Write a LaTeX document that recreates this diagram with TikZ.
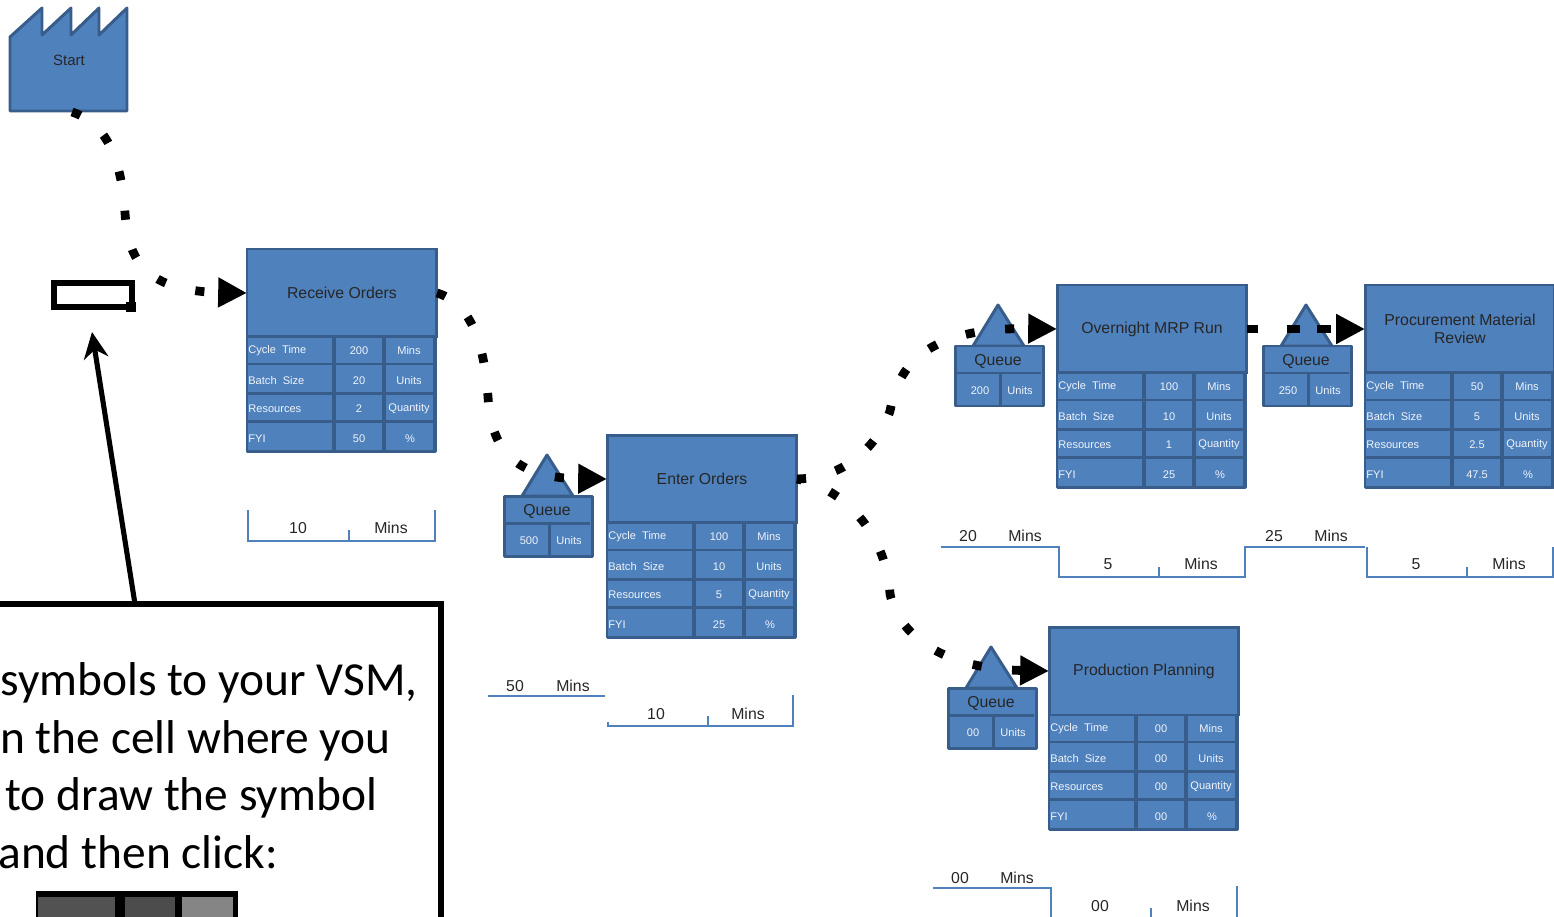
\documentclass[tikz,border=0pt]{standalone}
\usepackage{fontspec}
\setmainfont{Liberation Sans}
\newfontfamily\notefont{Carlito}
\usetikzlibrary{arrows.meta}
\definecolor{vsmF}{RGB}{79,129,189}
\definecolor{vsmD}{RGB}{56,93,138}
\definecolor{vsmT}{RGB}{240,244,250}
\newcommand{\procbox}[8]{%
  \begin{scope}[shift={(#2,#3)}]
    \filldraw[shapeline, fill=vsmD] (0,87) rectangle (188,202);
    \foreach \ya/\yb in {88/114,116/143,146/171,174/201} {
      \fill[vsmF] (1,\ya) rectangle (85,\yb);
      \fill[vsmF] (89,\ya) rectangle (135,\yb);
      \fill[vsmF] (139,\ya) rectangle (186,\yb);
    }
    \node[titletext, minimum width=3.8cm, minimum height=1.76cm, anchor=north west, draw=vsmD, fill=vsmF, line width=1.7pt, align=center] (#1) at (0,0) {#4};
    \node[celltext, anchor=west] (#1ctl) at (1,102) {Cycle\ \ Time};
    \node[celltext, anchor=west] (#1bsl) at (1,132) {Batch\ \ Size};
    \node[celltext, anchor=west] (#1rel) at (1,160) {Resources};
    \node[celltext, anchor=west] (#1fyl) at (1,190) {FYI};
    \node[celltext] (#1ctv) at (112,102) {#5};
    \node[celltext] (#1bsv) at (112,132) {#6};
    \node[celltext] (#1rev) at (112,160) {#7};
    \node[celltext] (#1fyv) at (112,190) {#8};
    \node[celltext] (#1ctu) at (162,102) {Mins};
    \node[celltext] (#1bsu) at (162,132) {Units};
    \node[celltext] (#1reu) at (162,160) {Quantity};
    \node[celltext] (#1fyu) at (163,190) {\%};
  \end{scope}}
\newcommand{\queuebox}[4]{%
  \begin{scope}[shift={(#2,#3)}]
    \filldraw[shapeline] (18,0) -- (43,-41) -- (69,0) -- cycle;
    \filldraw[shapeline] (0,0) rectangle (88,60);
    \draw[shapeline] (2,27) -- (86,27);
    \draw[shapeline] (45,27) -- (45,59);
    \node[queuetext] (#1lab) at (43,15) {Queue};
    \node[celltext] (#1val) at (25,45) {#4};
    \node[celltext] (#1uni) at (65,45) {Units};
  \end{scope}}
\newcommand{\timelabel}[4]{\node[timetext] (#1) at (#2,#3) {#4};}

\begin{document}
\begin{tikzpicture}[
    x=0.02cm, y=-0.02cm,
    shapeline/.style={draw=vsmD, fill=vsmF, line width=1.7pt, line join=round},
    titletext/.style={font=\fontsize{9}{10.2}\selectfont, text=black!85, inner sep=0pt, outer sep=0pt},
    celltext/.style={font=\fontsize{6.3}{7}\selectfont, text=vsmT, inner sep=0pt},
    queuetext/.style={font=\fontsize{9}{10}\selectfont, text=black!85, inner sep=0pt},
    timetext/.style={font=\fontsize{9}{10}\selectfont, text=black!85, inner sep=0pt},
    timeline/.style={draw=vsmF, line width=1.1pt},
    pull/.style={draw=black, line width=5pt, dash pattern=on 5.2pt off 17.4pt, -{Triangle[length=16.4pt,width=16pt]}},
    notetext/.style={font=\notefont\fontsize{27}{30}\selectfont, text=black, inner sep=0pt, anchor=base west},
  ]
  \useasboundingbox (0,0) rectangle (1554,916);
  \clip (0,0) rectangle (1554,916);

  %% ================= the factory =================
  \filldraw[shapeline] (10,37) -- (42,8) -- (42,35) -- (71,8) -- (71,35) -- (99,8) -- (99,35)
    -- (127,8) -- (127,111) -- (10,111) -- cycle;
  \node[font=\fontsize{8.5}{9}\selectfont, text=black!85, inner sep=0pt] (start) at (69,60) {Start};
  \coordinate (startout) at (72,112);

  %% ================= the marker and its note =================
  \node[draw=black, line width=3.2pt, minimum width=1.57cm, minimum height=0.48cm, inner sep=0pt] (marker) at (93,295) {};
  \node[fill=black, minimum size=0.2cm, inner sep=0pt] (markerdot) at (131,307) {};
  \node[draw=black, line width=2.9pt, fill=white, minimum width=9.6cm, minimum height=7cm, inner sep=0pt] (note) at (201,779) {};
  \coordinate (notetop) at (135,604);
  \coordinate (markertip) at (92,332);
  \draw[line width=2.9pt, -{Stealth[length=15pt,width=14pt]}] (notetop) -- (markertip);
  \node[notetext] (noteA) at (0,695) {symbols to your VSM,};
  \node[notetext] (noteB) at (0,753) {n the cell where you};
  \node[notetext] (noteC) at (5,810) {to draw the symbol};
  \node[notetext] (noteD) at (-2,868) {and then click:};
  \fill[black] (36,891) rectangle (238,920);
  \fill[black!68] (38,897) rectangle (115,920);
  \fill[black!70] (125,897) rectangle (175,920);
  \fill[black!48] (182,897) rectangle (233,920);

  %% ================= the process boxes =================
  \procbox{receive}{247}{249}{Receive Orders}{200}{20}{2}{50}
  \procbox{enter}{607}{435}{Enter Orders}{100}{10}{5}{25}
  \procbox{mrp}{1057}{285}{Overnight MRP Run}{100}{10}{1}{25}
  \procbox{review}{1365}{285}{Procurement Material\\Review}{50}{5}{2.5}{47.5}
  \procbox{plan}{1049}{627}{Production Planning}{00}{00}{00}{00}

  \queuebox{qenter}{504}{496}{500}
  \queuebox{qmrp}{955}{346}{200}
  \queuebox{qreview}{1263}{346}{250}
  \queuebox{qplan}{948}{688}{00}

  %% ================= the dotted pulls =================
  \draw[pull] (startout) .. controls (112,125) and (122,170) .. (125,213)
    .. controls (128,255) and (140,291) .. (receive.west);
  \draw[pull] (receive.east) .. controls (477,305) and (485,358) .. (488,397)
    .. controls (491,440) and (505,478) .. (enter.west);
  \draw[pull] (enter.east) .. controls (850,478) and (880,440) .. (890,411)
    .. controls (897,375) and (915,327) .. (mrp.west);
  \draw[pull, dash phase=2.5pt] (enter.east) .. controls (850,490) and (887,540) .. (890,594)
    .. controls (900,640) and (950,669) .. (plan.west);
  \draw[pull, dash pattern=on 6pt off 17pt on 7.4pt off 9.6pt on 8pt off 60pt] (mrp.east) -- (review.west);

  %% ================= the time lines =================
  \draw[timeline] (248,510) -- (248,541) -- (435,541) -- (435,510);
  \draw[timeline] (349,530) -- (349,541);
  \timelabel{tra}{298}{528}{10}
  \timelabel{trb}{391}{528}{Mins}

  \draw[timeline] (488,696) -- (605,696);
  \draw[timeline] (608,722) -- (608,726) -- (793,726) -- (793,695);
  \draw[timeline] (708,716) -- (708,726);
  \timelabel{tea}{515}{686}{50}
  \timelabel{teb}{573}{686}{Mins}
  \timelabel{tec}{656}{714}{10}
  \timelabel{ted}{748}{714}{Mins}

  \draw[timeline] (941,547) -- (1059,547) -- (1059,577) -- (1245,577) -- (1245,547) -- (1365,547);
  \draw[timeline] (1367,547) -- (1367,577) -- (1553,577) -- (1553,547);
  \draw[timeline] (1159,567) -- (1159,577);
  \draw[timeline] (1467,567) -- (1467,577);
  \timelabel{tma}{968}{536}{20}
  \timelabel{tmb}{1025}{536}{Mins}
  \timelabel{tmc}{1108}{564}{5}
  \timelabel{tmd}{1201}{564}{Mins}
  \timelabel{tme}{1274}{536}{25}
  \timelabel{tmf}{1331}{536}{Mins}
  \timelabel{tmg}{1416}{564}{5}
  \timelabel{tmh}{1509}{564}{Mins}

  \draw[timeline] (933,888) -- (1051,888) -- (1051,920);
  \draw[timeline] (1237,886) -- (1237,920);
  \draw[timeline] (1151,908) -- (1151,920);
  \timelabel{tpa}{960}{878}{00}
  \timelabel{tpb}{1017}{878}{Mins}
  \timelabel{tpc}{1100}{906}{00}
  \timelabel{tpd}{1193}{906}{Mins}

\end{tikzpicture}
\end{document}
